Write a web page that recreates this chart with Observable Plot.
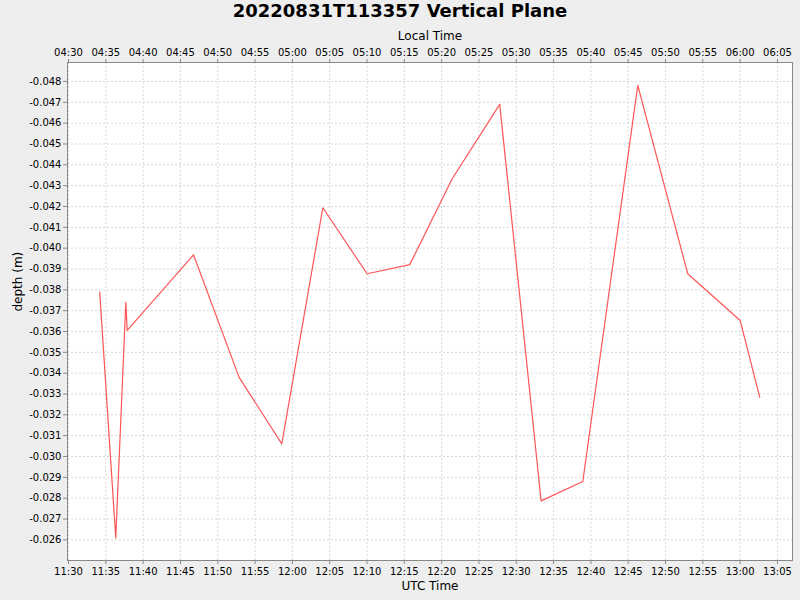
<!DOCTYPE html>
<html>
<head>
<meta charset="utf-8">
<script src="https://cdn.jsdelivr.net/npm/d3@7"></script>
<script src="https://cdn.jsdelivr.net/npm/@observablehq/plot@0.6"></script>
<style>
  html, body { margin: 0; padding: 0; background: #eeeeee; }
  #title { width: 800px; height: 24px; line-height: 24px; text-align: center;
           font: bold 18px "DejaVu Sans", sans-serif; color: #000; }
  #chart svg { display: block; }
</style>
</head>
<body>
<div id="title">20220831T113357 Vertical Plane</div>
<div id="chart"></div>
<script>
// UTC sample times (2022-08-31) and depth values
const utcTimes = ["11:34:11","11:36:20","11:37:41","11:37:52","11:46:45","11:52:52",
                  "11:58:35","12:04:05","12:10:01","12:15:44","12:21:25","12:27:47",
                  "12:33:20","12:38:55","12:46:17","12:52:59","13:00:00","13:02:38"];
const depths = [-0.03789,-0.02609,-0.03740,-0.03605,-0.03968,-0.03380,
                -0.03061,-0.04194,-0.03877,-0.03921,-0.04333,-0.04690,
                -0.02787,-0.02880,-0.04781,-0.03877,-0.03653,-0.03284];
const yTicks = [-0.048,-0.047,-0.046,-0.045,-0.044,-0.043,-0.042,-0.041,-0.040,-0.039,
                -0.038,-0.037,-0.036,-0.035,-0.034,-0.033,-0.032,-0.031,-0.030,-0.029,
                -0.028,-0.027,-0.026];
const localOffsetHours = -7;
const xDomainStart = "11:29:52", xDomainEnd = "13:07:01";
const yDomain = [-0.02501, -0.04891];

const toDate = s => { const [h,m,sec] = s.split(":").map(Number); return new Date(Date.UTC(2022,7,31,h,m,sec)); };
const data = utcTimes.map((t,i) => ({time: toDate(t), depth: depths[i]}));
const hm = d3.utcFormat("%H:%M");
const xTicks = d3.utcMinute.every(5);

const font = "DejaVu Sans, sans-serif";
const chart = Plot.plot({
  width: 800,
  height: 576,
  marginTop: 38,
  marginBottom: 40,
  marginLeft: 67,
  marginRight: 8,
  style: { background: "#eeeeee", fontFamily: font, fontSize: "10px", color: "#000" },
  x: { type: "utc", domain: [toDate(xDomainStart), toDate(xDomainEnd)] },
  y: { domain: yDomain },
  marks: [
    Plot.frame({ fill: "white", stroke: "none" }),
    Plot.gridX({ ticks: xTicks, stroke: "#d8d8d8", strokeOpacity: 1, strokeDasharray: "2,2" }),
    Plot.gridY(yTicks, { stroke: "#d8d8d8", strokeOpacity: 1, strokeDasharray: "2,2" }),
    Plot.axisX({ anchor: "bottom", ticks: xTicks, tickFormat: hm, tickSize: 4, tickPadding: 3,
                 stroke: "#888", color: "#000", label: null }),
    Plot.axisX({ anchor: "top", ticks: xTicks, tickSize: 4, tickPadding: 3,
                 tickFormat: d => hm(new Date(+d + localOffsetHours * 3600e3)),
                 stroke: "#888", color: "#000", label: null }),
    Plot.axisY(yTicks, { anchor: "left", tickFormat: d => d.toFixed(3), tickSize: 4, tickPadding: 2,
                 stroke: "#888", color: "#000", label: null }),
    Plot.line(data, { x: "time", y: "depth", stroke: "#ff5555", strokeWidth: 1.2 }),
    Plot.frame({ stroke: "#888888", strokeWidth: 1 }),
    Plot.text(["UTC Time"], { frameAnchor: "bottom", lineAnchor: "middle", dy: 26, fontSize: 12, fill: "#000" }),
    Plot.text(["Local Time"], { frameAnchor: "top", lineAnchor: "middle", dy: -26, fontSize: 12, fill: "#000" }),
    Plot.text(["depth (m)"], { frameAnchor: "left", lineAnchor: "middle", dx: -49, rotate: -90, fontSize: 12, fill: "#000" })
  ]
});
document.getElementById("chart").appendChild(chart);
</script>
</body>
</html>
